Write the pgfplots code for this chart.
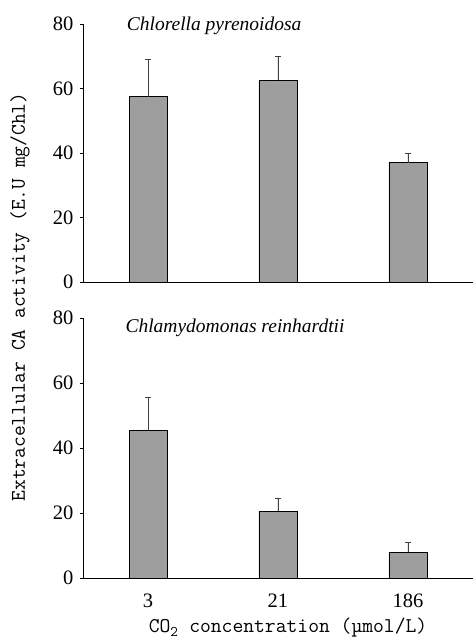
\documentclass[border=0pt]{standalone}
\usepackage{pgfplots}
\pgfplotsset{compat=1.18}
\usepackage{fontspec}
\setmainfont{Liberation Serif}
\begin{document}
\begin{tikzpicture}[x=1pt,y=1pt]
\useasboundingbox (0pt,0pt) rectangle (473pt,641pt);
\pgfplotsset{
  myax/.style={
    scale only axis, width=390pt, anchor=south west,
    xmin=-0.5, xmax=2.5, ymin=0, ymax=80,
    ytick={0,20,40,60,80},
    xtick={0,1,2},
    axis x line*=bottom, axis y line*=left,
    axis line style={line width=0.9pt},
    tick style={black, line width=0.7pt},
    major tick length=3pt,
    tick align=outside,
    ticklabel style={font=\fontsize{20.5}{20.5}\selectfont},
    /pgf/number format/assume math mode=true,
    yticklabel style={xshift=-3pt},
    ybar, bar width=38pt,
    clip=false,
  },
  mybar/.style={fill=black!38, draw=black, line width=0.7pt,
    error bars/.cd, y dir=plus, y explicit,
    error bar style={line width=0.6pt, black!75},
    error mark options={rotate=90, mark size=3pt, line width=0.6pt}},
}
\begin{axis}[myax, at={(83pt,359pt)}, height=258pt, xticklabels={}, xtick style={draw=none}]
\addplot[mybar] coordinates {(0,57.5) +- (0,11.5) (1,62.5) +- (0,7.5) (2,37) +- (0,3)};
\node[anchor=west, font=\itshape\fontsize{19.5}{19.5}\selectfont] at (axis cs:-0.19,79.5) {Chlorella pyrenoidosa};
\end{axis}
\begin{axis}[myax, at={(83pt,63pt)}, height=260pt, xticklabels={3,21,186}, xtick style={draw=none}, xticklabel style={yshift=-9pt}]
\addplot[mybar] coordinates {(0,45.5) +- (0,10) (1,20.5) +- (0,4) (2,8) +- (0,3)};
\node[anchor=west, font=\itshape\fontsize{19.5}{19.5}\selectfont] at (axis cs:-0.2,77) {Chlamydomonas reinhardtii};
\end{axis}
\node[rotate=90, font=\ttfamily\fontsize{20.9}{21}\selectfont] at (20pt,344pt) {Extracellular CA activity (E.U mg/Chl)};
\node[font=\ttfamily\fontsize{21}{21}\selectfont] at (288pt,13pt) {CO\textsubscript{2} concentration (µmol/L)};
\end{tikzpicture}
\end{document}
